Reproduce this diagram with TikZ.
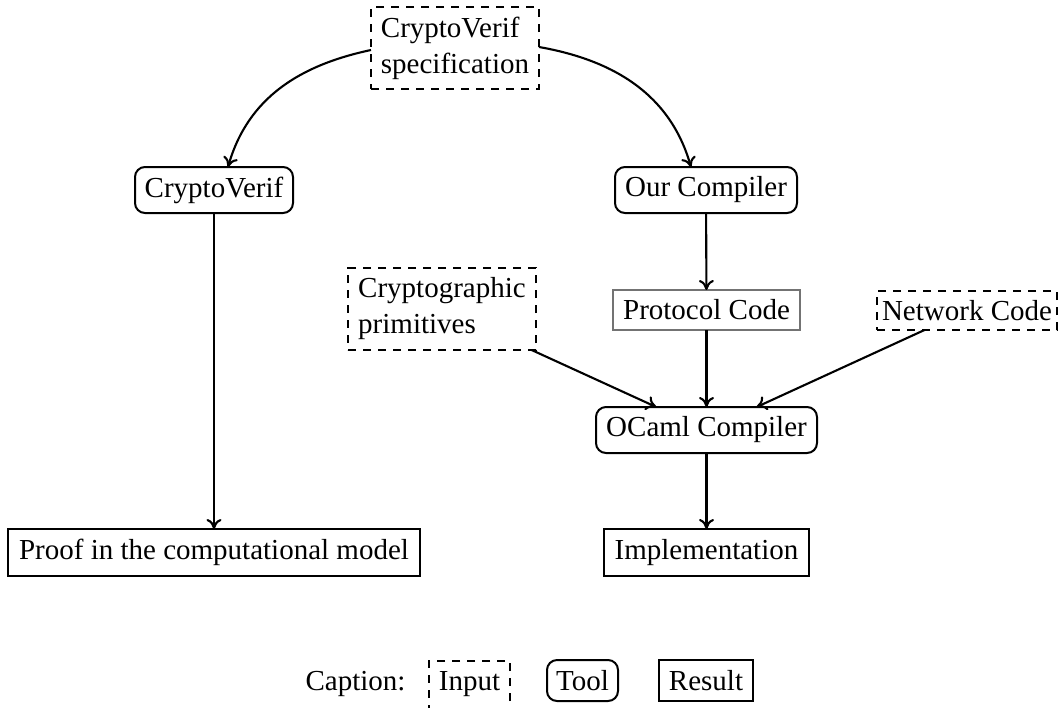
\documentclass[tikz,border=0pt]{standalone}
\usepackage{fontspec}
\setmainfont{Liberation Serif}
\usetikzlibrary{arrows.meta}
\begin{document}
\begin{tikzpicture}[x=0.5pt,y=-0.5pt,
  every node/.style={font=\fontsize{14.5}{18}\selectfont, inner sep=0pt, outer sep=0pt},
  base/.style={draw, line width=1pt, minimum width=#1, align=center},
  inputbox/.style={base=#1, dash pattern=on 4.2pt off 3.3pt},
  toolbox/.style={base=#1, rounded corners=5pt},
  resultbox/.style={base=#1},
  gen/.style={draw=black!55, line width=0.6pt, minimum width=#1},
  arr/.style={line width=1.05pt, -{To[length=5pt,width=7.5pt]}}
]
\useasboundingbox (0,0) rectangle (1063,707);

\node[inputbox=84pt, minimum height=41pt, align=left] (spec) at (455,48) {CryptoVerif\\specification};
\node[toolbox=79pt, minimum height=23pt] (cv) at (214,190) {CryptoVerif};
\node[toolbox=91pt, minimum height=23pt] (oc) at (706,190) {Our Compiler};
\node[inputbox=94pt, minimum height=41pt, align=left] (cp) at (442,309) {Cryptographic\\primitives};
\node[gen=93.5pt, minimum height=20pt] (pc) at (706.5,310) {Protocol Code};
\node[inputbox=90pt, minimum height=19.5pt] (nc) at (967,310.5) {Network Code};
\node[toolbox=110.5pt, minimum height=23pt] (ocaml) at (706.5,430) {OCaml Compiler};
\node[resultbox=206pt, minimum height=23.5pt] (proof) at (214,552.5) {Proof in the computational model};
\node[resultbox=102.5pt, minimum height=23.5pt] (impl) at (706.5,552.5) {Implementation};

\node[anchor=base] (cap) at (355.5,690) {Caption:};
\node[inputbox=40.5pt, anchor=base, text height=14.5pt, text depth=10pt] (lin) at (469.5,690) {Input};
\node[toolbox=35.5pt, anchor=base, text height=15pt, text depth=5.5pt] (ltool) at (582.5,690) {Tool};
\node[resultbox=47pt, anchor=base, text height=15pt, text depth=5.5pt] (lres) at (706,690) {Result};

\draw[arr] ([yshift=-1pt]spec.west) to[out=192,in=74] ([xshift=7pt]cv.north);
\draw[arr] ([yshift=0.5pt]spec.east) to[out=-10,in=106] ([xshift=-7.5pt]oc.north);
\draw[arr] (cv) -- (proof);
\draw[arr] (oc) -- (pc);
\draw[arr] (pc) -- (ocaml);
\draw[arr] (cp) -- (ocaml);
\draw[arr] (nc) -- (ocaml);
\draw[arr] (ocaml) -- (impl);
\end{tikzpicture}
\end{document}
